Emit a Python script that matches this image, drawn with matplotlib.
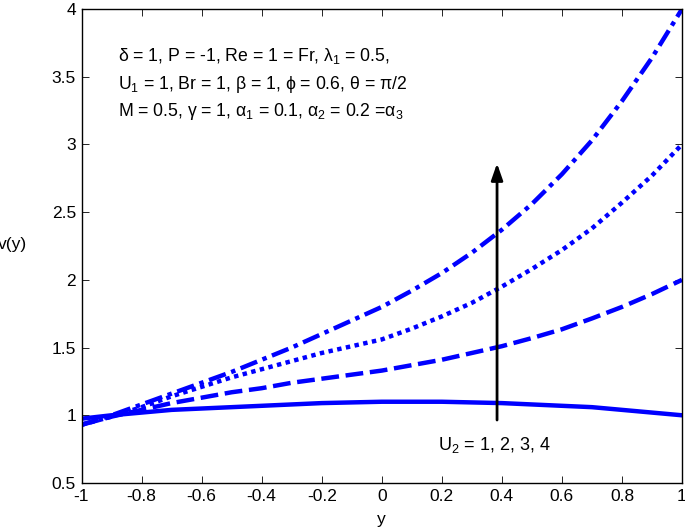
import matplotlib
matplotlib.use("Agg")
import matplotlib.pyplot as plt
import numpy as np

plt.rcParams['font.family'] = ['Liberation Sans', 'DejaVu Sans']
plt.rcParams['mathtext.fontset'] = 'custom'
plt.rcParams['mathtext.rm'] = 'Liberation Sans'
plt.rcParams['mathtext.it'] = 'Liberation Sans'

y_vals = [-1.0, -0.9, -0.8, -0.7, -0.6, -0.5, -0.4, -0.3, -0.2, -0.1, 0.0,
          0.1, 0.2, 0.3, 0.4, 0.5, 0.6, 0.7, 0.8, 0.9, 1.0]

v_U1 = [0.975, 1.0, 1.02, 1.04, 1.05, 1.06, 1.07, 1.08, 1.09, 1.095, 1.10,
        1.10, 1.10, 1.095, 1.09, 1.08, 1.07, 1.06, 1.04, 1.02, 1.00]
v_U2 = [0.93, 0.99, 1.04, 1.09, 1.13, 1.17, 1.20, 1.24, 1.27, 1.30, 1.33,
        1.37, 1.41, 1.46, 1.51, 1.57, 1.635, 1.715, 1.80, 1.895, 2.00]
v_U3 = [0.93, 0.99, 1.06, 1.14, 1.21, 1.28, 1.34, 1.40, 1.46, 1.51, 1.56,
        1.64, 1.73, 1.83, 1.95, 2.08, 2.22, 2.38, 2.57, 2.77, 3.00]
v_U4 = [0.93, 1.00, 1.08, 1.16, 1.24, 1.32, 1.41, 1.50, 1.60, 1.70, 1.80,
        1.92, 2.05, 2.20, 2.37, 2.56, 2.78, 3.03, 3.32, 3.64, 4.00]

xticks = [-1, -0.8, -0.6, -0.4, -0.2, 0, 0.2, 0.4, 0.6, 0.8, 1]
xticklabels = ['-1', '-0.8', '-0.6', '-0.4', '-0.2', '0', '0.2', '0.4', '0.6', '0.8', '1']
yticks = [0.5, 1, 1.5, 2, 2.5, 3, 3.5, 4]
yticklabels = ['0.5', '1', '1.5', '2', '2.5', '3', '3.5', '4']

fig = plt.figure(figsize=(6.85, 5.29), dpi=100)
ax = fig.add_axes([81.5/685, 1 - 483/529, (682 - 81.5)/685, (483 - 9)/529])

blue = '#0000ff'
lw = 3.2
ax.plot(y_vals, v_U1, color=blue, lw=lw, linestyle='-')
ax.plot(y_vals, v_U2, color=blue, lw=lw, linestyle=(0, (4, 1.5)))
ax.plot(y_vals, v_U3, color=blue, lw=lw, linestyle=(0, (1, 1.0)))
ax.plot(y_vals, v_U4, color=blue, lw=lw, linestyle=(0, (4, 1.3, 1, 1.3)))

ax.set_xlim(-1, 1)
ax.set_ylim(0.5, 4)
ax.set_xticks(xticks)
ax.set_xticklabels(xticklabels)
ax.set_yticks(yticks)
ax.set_yticklabels(yticklabels)
ax.tick_params(direction='in', top=True, right=True, labelsize=12.5, length=5, width=0.6, pad=4)
for s in ax.spines.values():
    s.set_linewidth(1.0)

ax.annotate('', xy=(0.384, 2.86), xytext=(0.384, 0.965),
            arrowprops=dict(arrowstyle='-|>,head_width=0.35,head_length=1.0', color='black', lw=2.0,
                            shrinkA=0, shrinkB=0))

fs = 12.7
tx = -0.878
ax.text(tx, 3.614, r'$\delta$ = 1, P = -1, Re = 1 = Fr, $\lambda_1$ = 0.5,', fontsize=fs, va='baseline')
ax.text(tx, 3.408, r'U$_1$ = 1, Br = 1, $\beta$ = 1, $\phi$ = 0.6, $\theta$ = $\pi$/2', fontsize=fs, va='baseline')
ax.text(tx, 3.208, r'M = 0.5, $\gamma$ = 1, $\alpha_1$ = 0.1, $\alpha_2$ = 0.2 =$\alpha_3$', fontsize=fs, va='baseline')
ax.text(0.186, 0.78, r'U$_2$ = 1, 2, 3, 4', fontsize=13, va='center')

ax.set_xlabel('y', fontsize=12.5, labelpad=6)
fig.text(-0.003, 1 - 245/529, 'v(y)', fontsize=12.5, va='center', ha='left')

fig.savefig('out.png', dpi=100)
